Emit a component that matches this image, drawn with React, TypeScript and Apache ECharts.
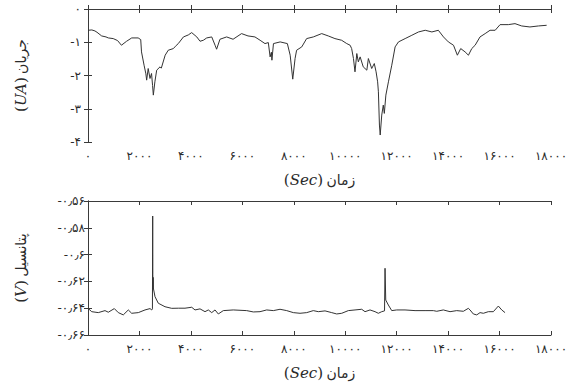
import React, { useEffect, useRef } from "react";
import * as echarts from "echarts";

// Top panel: current (UA) vs time (Sec)
const currentTime = [
  0, 150, 270, 350, 530, 700, 790, 980, 1150, 1300, 1400, 1500, 1700, 1950, 2050, 2080, 2180, 2250, 2280, 2340,
  2410, 2470, 2510, 2540, 2600, 2670, 2800, 2850, 3000, 3120, 3320, 3400, 3510, 3710, 3900, 4030, 4230, 4355,
  4483, 4615, 4810, 4940, 5000, 5130, 5390, 5640, 5970, 6220, 6490, 6690, 6880, 7010, 7080, 7130, 7150, 7210,
  7470, 7750, 7860, 7960, 8050, 8110, 8310, 8500, 8760, 9086, 9340, 9600, 9860, 10060, 10190, 10250, 10320,
  10380, 10450, 10510, 10580, 10700, 10840, 10900, 11030, 11130, 11200, 11260, 11290, 11330, 11360, 11420,
  11480, 11520, 11580, 11680, 11810, 11940, 12070, 12330, 12590, 12850, 13110, 13370, 13620, 13820, 14010,
  14210, 14360, 14490, 14660, 14790, 14920, 15050, 15240, 15440, 15630, 15830, 16020, 16340, 16600, 16860,
  17180, 17510, 17830,
];
const currentValues = [
  -0.64, -0.63, -0.66, -0.7, -0.81, -0.84, -0.87, -0.89, -0.95, -1.09, -1.03, -0.97, -0.87, -0.87, -0.92, -1.29,
  -1.69, -1.95, -2.14, -1.79, -2.09, -1.94, -2.3, -2.59, -2.19, -1.84, -1.74, -1.78, -1.39, -1.24, -1.19, -1.12,
  -1.04, -0.84, -0.78, -0.71, -0.84, -0.97, -0.94, -0.87, -0.84, -1.09, -1.21, -0.91, -0.84, -0.91, -0.74, -0.81,
  -0.84, -0.94, -1.04, -1.01, -1.44, -1.3, -1.54, -1.04, -0.99, -1.04, -1.39, -2.11, -1.49, -1.24, -1.14, -0.89,
  -0.84, -0.74, -0.81, -0.89, -0.94, -1.04, -1.09, -1.19, -1.49, -1.89, -1.34, -1.59, -1.44, -1.74, -1.84, -1.49,
  -1.79, -1.64, -1.89, -2.19, -2.49, -3.49, -3.79, -3.19, -2.89, -3.14, -2.59, -2.19, -1.69, -1.14, -0.99, -0.89,
  -0.79, -0.69, -0.64, -0.69, -0.64, -0.84, -0.99, -1.09, -1.39, -1.19, -1.29, -1.39, -1.19, -1.09, -0.84, -0.74,
  -0.64, -0.64, -0.47, -0.47, -0.44, -0.51, -0.54, -0.51, -0.49,
];

// Bottom panel: potential (V) vs time (Sec)
const potentialTime = [
  0, 144, 400, 661, 789, 1023, 1178, 1372, 1567, 1699, 1956, 2216, 2411, 2477, 2505, 2515, 2520, 2527, 2533,
  2539, 2605, 2733, 2994, 3254, 3511, 3771, 4032, 4160, 4355, 4549, 4677, 4810, 4938, 5066, 5260, 5649, 6170,
  6427, 6687, 6948, 7205, 7465, 7726, 7982, 8243, 8503, 8760, 8954, 9215, 9475, 9669, 9864, 10120, 10381, 10641,
  10770, 10964, 11159, 11287, 11419, 11528, 11548, 11575, 11676, 11808, 12002, 12325, 12714, 13103, 13425, 13558,
  13814, 14075, 14335, 14592, 14786, 14852, 14980, 15113, 15241, 15370, 15564, 15758, 15953, 16085, 16213,
];
const potentialValues = [
  -0.6401, -0.6426, -0.6433, -0.6418, -0.643, -0.6403, -0.6433, -0.645, -0.6413, -0.6438, -0.6433, -0.6413,
  -0.6403, -0.6413, -0.6405, -0.5712, -0.615, -0.6255, -0.617, -0.6249, -0.6314, -0.6363, -0.6389, -0.6401,
  -0.64, -0.64, -0.6393, -0.6413, -0.6405, -0.6426, -0.6413, -0.6433, -0.6413, -0.6443, -0.6418, -0.6413,
  -0.6418, -0.6428, -0.6426, -0.6413, -0.6418, -0.6408, -0.6418, -0.6433, -0.6438, -0.6433, -0.6418, -0.6426,
  -0.642, -0.6433, -0.6443, -0.6438, -0.6418, -0.6413, -0.6408, -0.6426, -0.6413, -0.6426, -0.6438, -0.6426,
  -0.642, -0.6102, -0.6339, -0.6376, -0.6418, -0.6413, -0.6413, -0.6418, -0.6418, -0.6418, -0.6423, -0.6413,
  -0.6426, -0.6418, -0.6423, -0.6401, -0.6413, -0.6443, -0.645, -0.6433, -0.6438, -0.6426, -0.6426, -0.6384,
  -0.6413, -0.6433,
];

const xTicks = [0, 2000, 4000, 6000, 8000, 10000, 12000, 14000, 16000, 18000];
const topYTicks = [0, -1, -2, -3, -4];
const bottomYTicks = [-0.56, -0.58, -0.6, -0.62, -0.64, -0.66];

const topYName = "جریان";
const topYUnit = "UA";
const bottomYName = "پتانسیل";
const bottomYUnit = "V";
const xName = "زمان";
const xUnit = "Sec";

const FA_DIGITS = "۰۱۲۳۴۵۶۷۸۹";
const toFa = (v: number) =>
  String(parseFloat(v.toFixed(2)))
    .replace(/[0-9]/g, (d) => FA_DIGITS[+d])
    .replace(".", "٫");

const INK = "#2a2a2a";
const FONT = "'DejaVu Serif', 'DejaVu Sans', serif";
const FA_FONT = "'DejaVu Sans', sans-serif";

const nameRich = {
  p: { fontFamily: FONT, fontSize: 15, color: INK },
  i: { fontFamily: FONT, fontSize: 15, fontStyle: "italic" as const, color: INK },
  f: { fontFamily: FA_FONT, fontSize: 14, color: INK },
};

const frameLine = { show: true, lineStyle: { color: "#3a3a3a", width: 1 } };
const inTick = { show: true, inside: true, length: 4, lineStyle: { color: "#3a3a3a" } };

function makeAxes(gridIndex: number, yTicks: number[], yName: string, yUnit: string, yLabelMargin: number) {
  const ymin = Math.min(...yTicks);
  const ymax = Math.max(...yTicks);
  const step = Math.abs(yTicks[0] - yTicks[1]);
  const xAxes = [
    {
      type: "value",
      gridIndex,
      position: "bottom",
      min: xTicks[0],
      max: xTicks[xTicks.length - 1],
      interval: xTicks[1] - xTicks[0],
      axisLine: frameLine,
      axisTick: inTick,
      splitLine: { show: false },
      axisLabel: { color: INK, fontFamily: FA_FONT, fontSize: 12, margin: 8, formatter: (v: number) => toFa(v) },
      name: `{p|(}{i|${xUnit}}{p|)} {f|${xName}}`,
      nameLocation: "middle",
      nameGap: 30,
      nameTextStyle: { rich: nameRich },
    },
    {
      type: "value",
      gridIndex,
      position: "top",
      min: xTicks[0],
      max: xTicks[xTicks.length - 1],
      interval: xTicks[1] - xTicks[0],
      axisLine: frameLine,
      axisTick: inTick,
      splitLine: { show: false },
      axisLabel: { show: false },
    },
  ];
  const yAxes = [
    {
      type: "value",
      gridIndex,
      position: "left",
      min: ymin,
      max: ymax,
      interval: step,
      axisLine: frameLine,
      axisTick: inTick,
      splitLine: { show: false },
      axisLabel: { color: INK, fontFamily: FA_FONT, fontSize: 12, margin: yLabelMargin, formatter: (v: number) => toFa(v) },
      name: `{p|(}{i|${yUnit}}{p|)} {f|${yName}}`,
      nameLocation: "middle",
      nameGap: 60,
      nameTextStyle: { rich: nameRich },
    },
    {
      type: "value",
      gridIndex,
      position: "right",
      min: ymin,
      max: ymax,
      interval: step,
      axisLine: frameLine,
      axisTick: inTick,
      splitLine: { show: false },
      axisLabel: { show: false },
    },
  ];
  return { xAxes, yAxes };
}

export default function App() {
  const ref = useRef<HTMLDivElement>(null);
  useEffect(() => {
    if (!ref.current) return;
    const chart = echarts.init(ref.current, undefined, { renderer: "svg" });
    const top = makeAxes(0, topYTicks, topYName, topYUnit, 7);
    const bottom = makeAxes(1, bottomYTicks, bottomYName, bottomYUnit, 3);
    chart.setOption({
      animation: false,
      backgroundColor: "#ffffff",
      grid: [
        { left: 88, right: 21, top: 9, height: 133 },
        { left: 88, right: 21, top: 201, height: 134 },
      ],
      xAxis: [...top.xAxes, ...bottom.xAxes],
      yAxis: [...top.yAxes, ...bottom.yAxes],
      series: [
        {
          type: "line",
          xAxisIndex: 0,
          yAxisIndex: 0,
          data: currentTime.map((t, i) => [t, currentValues[i]]),
          showSymbol: false,
          lineStyle: { color: "#333333", width: 1 },
        },
        {
          type: "line",
          xAxisIndex: 2,
          yAxisIndex: 2,
          data: potentialTime.map((t, i) => [t, potentialValues[i]]),
          showSymbol: false,
          lineStyle: { color: "#333333", width: 1 },
        },
      ],
    });
    return () => chart.dispose();
  }, []);
  return <div ref={ref} style={{ width: 572, height: 382, position: "absolute", left: 0, top: 0 }} />;
}
